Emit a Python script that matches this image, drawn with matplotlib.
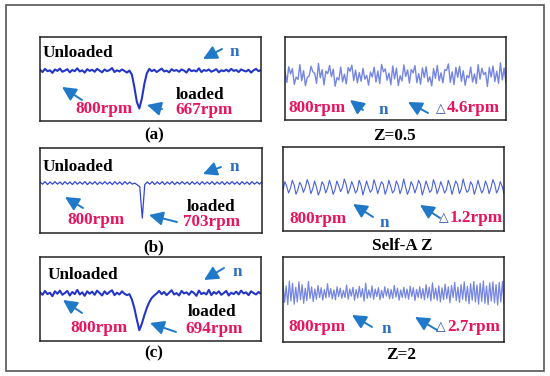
import matplotlib.pyplot as plt
from matplotlib.patches import Rectangle
import numpy as np

#=======================
# Speed traces (rpm)
#=======================

# left column: speed under a load step
speed_a = [803, 795, 806, 798, 801, 792, 804, 799, 807, 796,
           800, 805, 794, 802, 798, 808, 797, 801, 793, 805,
           799, 803, 796, 806, 800, 794, 804, 798, 802, 809,
           795, 801, 797, 804, 799, 793, 800, 786, 742, 690,
           667, 701, 752, 790, 806, 798, 803, 795, 801, 807,
           797, 800, 794, 805, 799, 802, 796, 804, 800, 793,
           806, 798, 801, 797, 808, 795, 802, 799, 804, 796,
           800, 805, 794, 801, 798, 803, 797, 806, 799, 802,
           795, 804, 800, 797, 803, 793, 801, 806, 798, 802]

speed_b = [803, 797, 804, 796, 803, 797, 804, 797, 803, 796,
           804, 797, 803, 796, 804, 797, 803, 797, 804, 796,
           803, 797, 804, 796, 803, 797, 804, 797, 803, 796,
           804, 797, 803, 796, 804, 797, 803, 797, 800, 795,
           790, 703, 796, 803, 797, 804, 796, 803, 797, 804,
           796, 803, 797, 804, 796, 803, 797, 804, 797, 803,
           796, 804, 797, 803, 796, 804, 797, 803, 797, 804,
           796, 803, 797, 804, 796, 803, 797, 804, 797, 803,
           796, 804, 797, 803, 796, 804, 797, 803, 797, 804]

speed_c = [802, 795, 806, 797, 801, 791, 805, 798, 807, 795,
           800, 806, 793, 803, 797, 809, 796, 802, 792, 805,
           798, 804, 795, 807, 800, 793, 805, 797, 803, 808,
           794, 801, 796, 805, 798, 794, 797, 782, 757, 724,
           694, 712, 736, 757, 774, 786, 793, 799, 806, 797,
           803, 794, 801, 808, 796, 800, 793, 806, 799, 802,
           795, 805, 800, 792, 807, 797, 801, 796, 809, 794,
           803, 798, 805, 795, 800, 806, 793, 801, 797, 804,
           796, 807, 799, 802, 794, 805, 800, 796, 803, 798]

# right column: speed ripple around 800 rpm (rpm deviation)
ripple_z05 = [1.2, -2.8, 3.1, 0.4, 2.4, -3.6, -0.8, -1.7, 3.9, -2.2,
              1.6, -4.1, -1.0, -0.4, 3.3, 1.2, 0.6, -3.2, 4.4, -1.1,
              2.0, -3.8, 1.4, 0.5, 3.6, -0.7, 2.2, -4.3, -1.0, -1.9,
              3.0, -2.6, 0.3, -3.4, 2.8, 1.4, 3.7, -2.1, 1.8, -3.0,
              0.9, -2.4, 2.5, -1.6, -0.2, -3.9, 1.1, -0.8, 2.9, -2.7,
              1.5, -3.3, 4.0, 1.2, 2.3, -2.0, 0.7, -3.7, 3.4, -1.5,
              2.6, -4.0, -0.3, -2.3, 3.8, -0.6, 1.9, -3.1, 2.1, 0.8,
              3.5, -2.9, 0.5, -3.5, 2.7, -1.0, 3.1, -2.6, -0.7, -4.2,
              2.4, -1.3, 3.6, -2.2, 0.8, -3.0, 2.0, 1.7, 4.2, -2.8,
              1.2, -3.6, 2.9, -0.9, 3.3, -2.4, 1.6, -3.9, -0.2, -1.1,
              3.0, -2.7, 0.4, -3.3, 3.9, -1.6, 2.5, 0.1, 1.0, -4.4,
              2.8, -0.8, 3.4, -2.5, 1.4, -3.2, 4.6, -1.9, 2.6, -3.0]

ripple_self = [-0.5, 0.8, 0.1, -0.9, -0.2, 1.0, 0.3, -1.1, -0.4, 0.7,
               0.2, -0.8, -0.1, 1.1, 0.4, -1.0, -0.3, 0.9, 0.0, -1.2,
               -0.5, 0.8, 0.3, -0.9, -0.2, 1.0, 0.1, -1.1, -0.4, 0.9,
               0.2, -0.7, -0.1, 1.2, 0.4, -1.0, -0.3, 0.8, 0.1, -0.9,
               -0.5, 1.0, 0.3, -1.2, -0.2, 0.9, 0.0, -0.8, -0.4, 1.1,
               0.2, -1.0, -0.1, 0.8, 0.4, -1.1, -0.3, 1.0, 0.1, -0.9,
               -0.5, 0.9, 0.3, -1.0, -0.2, 1.2, 0.0, -1.1, -0.4, 0.8,
               0.2, -0.9, -0.1, 1.0, 0.4, -1.2, -0.3, 0.9, 0.1, -0.8,
               -0.5, 1.1, 0.3, -1.0, -0.2, 0.8, 0.0, -0.9, -0.4, 1.0,
               0.2, -1.1, -0.1, 0.9, 0.4, -1.0, -0.3, 1.2, 0.1, -0.8,
               -0.5, 0.8, 0.3, -1.1, -0.2, 1.0, 0.0, -0.9, -0.4, 0.9,
               0.2, -1.0, -0.1, 1.1, 0.4, -0.9, -0.3, 0.8, 0.1, -1.0]

ripple_z2 = [2.4, -2.1, 1.6, -2.6, 2.7, -1.8, 2.2, -2.5, 1.3, -2.0,
             2.5, -1.5, 1.9, -2.3, 1.1, -1.7, 2.6, -1.2, 1.4, -1.9,
             0.9, -1.4, 1.7, -1.0, 1.2, -1.6, 0.8, -1.1, 2.1, -0.9,
             1.0, -1.3, 0.7, -1.5, 1.4, -0.8, 1.1, -1.2, 0.6, -1.0,
             1.8, -1.4, 0.9, -0.7, 1.3, -1.6, 0.8, -1.1, 1.5, -0.9,
             1.0, -1.8, 2.2, -1.2, 0.7, -1.0, 1.6, -1.4, 0.9, -0.8,
             1.2, -1.5, 0.6, -1.1, 1.4, -0.7, 1.0, -1.3, 0.8, -1.2,
             1.7, -0.9, 1.1, -1.6, 0.7, -1.0, 1.3, -1.1, 0.9, -1.4,
             1.5, -0.8, 1.2, -1.7, 0.8, -1.0, 1.4, -1.2, 1.0, -1.5,
             1.9, -1.1, 1.3, -1.8, 2.3, -1.3, 1.1, -1.6, 1.6, -2.0,
             1.2, -1.5, 2.0, -1.3, 1.4, -2.2, 1.7, -1.0, 2.4, -1.7,
             1.3, -2.1, 1.9, -1.4, 2.5, -1.8, 1.5, -2.4, 2.1, -1.6,
             2.6, -2.0, 1.8, -2.5, 2.2, -1.9, 2.7, -2.3, 1.6, -2.6,
             2.3, -1.8, 2.5, -2.2, 1.9, -2.7, 2.4, -2.0, 2.6, -2.4]

loaded_labels = ['667rpm', '703rpm', '694rpm']
ripple_labels = ['4.6rpm', '1.2rpm', '2.7rpm']
left_titles = ['(a)', '(b)', '(c)']
right_titles = ['Z=0.5', 'Self-A Z', 'Z=2']

#=======================
# Figure
#=======================

W, H = 550, 376
fig = plt.figure(figsize=(W / 100, H / 100), dpi=100)
plt.rcParams['font.family'] = ['Liberation Serif', 'DejaVu Serif']

PINK = '#e8145f'
ARROW = '#1f78c8'
NBLUE = '#2a6fc0'


def px_axes(x0, y0, x1, y1):
    ax = fig.add_axes([x0 / W, 1 - y1 / H, (x1 - x0) / W, (y1 - y0) / H])
    ax.set_xticks([])
    ax.set_yticks([])
    for s in ax.spines.values():
        s.set_linewidth(1.1)
        s.set_color('#222222')
    return ax


def draw(ax, y, ylim, color, lw, alpha=1.0):
    x = np.arange(len(y))
    ax.plot(x, y, color=color, lw=lw, alpha=alpha)
    ax.set_xlim(0, len(y) - 1)
    ax.set_ylim(*ylim)


axA = px_axes(40, 37, 261, 121)
draw(axA, speed_a, (623, 918), '#2436c8', 1.5)
axB = px_axes(40, 148, 262, 233)
draw(axB, speed_b, (662, 897), '#3346d6', 0.9)
axC = px_axes(40, 257, 261, 341)
draw(axC, speed_c, (663, 903), '#2436c8', 1.5)

axA2 = px_axes(285, 37, 506, 120)
draw(axA2, ripple_z05, (-17.1, 14.4), '#3a52d6', 1.0, 0.7)
axB2 = px_axes(283, 147, 504, 231)
draw(axB2, ripple_self, (-6.6, 6.0), '#4a62dc', 0.8)
axC2 = px_axes(283, 257, 504, 342)
draw(axC2, ripple_z2, (-11.0, 8.1), '#3a52d6', 0.9, 0.7)

# overlay for frame, labels and arrows (pixel coordinates)
ov = fig.add_axes([0, 0, 1, 1], zorder=10)
ov.set_xlim(0, W)
ov.set_ylim(H, 0)
ov.axis('off')
ov.patch.set_alpha(0)
ov.add_patch(Rectangle((6, 5), 538, 366, fill=False, ec='#555555', lw=1.2))

FS = 12.3
bold = dict(fontsize=FS, fontweight='bold', va='center', ha='left')


def arrow(tail, head):
    ov.annotate('', xy=head, xytext=tail,
                arrowprops=dict(arrowstyle='-|>,head_length=0.7,head_width=0.35',
                                color=ARROW, lw=1.4, mutation_scale=12,
                                shrinkA=0, shrinkB=0))


# left column text
left_rows = [
    dict(unl=(43, 53), n=(230, 52), na=((222, 49), (203, 59)),
         a800=((82, 100), (62, 87)), t800=(75, 109), lo=(176, 95),
         tl=(175, 110), la=((162, 109), (147, 105)), title=(154, 135)),
    dict(unl=(43, 167), n=(230, 167), na=((221, 167), (203, 174)),
         a800=((83, 208), (65, 197)), t800=(67, 220), lo=(187, 207),
         tl=(183, 222), la=((177, 222), (149, 215)), title=(154, 247)),
    dict(unl=(48, 275), n=(233, 272), na=((224, 268), (204, 280)),
         a800=((82, 313), (63, 300)), t800=(70, 328), lo=(188, 312),
         tl=(185, 329), la=((176, 332), (150, 323)), title=(154, 353)),
]
for r, lab, title in zip(left_rows, loaded_labels, left_titles):
    ov.text(*r['unl'], 'Unloaded', color='black', **bold)
    ov.text(*r['n'], 'n', color=NBLUE, **bold)
    arrow(*r['na'])
    arrow(*r['a800'])
    ov.text(*r['t800'], '800rpm', color=PINK, **bold)
    ov.text(*r['lo'], 'loaded', color='black', **bold)
    ov.text(*r['tl'], lab, color=PINK, **bold)
    arrow(*r['la'])
    ov.text(*r['title'], title, fontsize=FS, fontweight='bold', ha='center', va='center')

right_rows = [
    dict(t800=(288, 108), a1=((363, 110), (350, 100)), n=(379, 110),
         a2=((428, 113), (408, 102)), tri=(436, 109), tr=(447, 108), title=(395, 136)),
    dict(t800=(289, 219), a1=((373, 217), (353, 204)), n=(380, 223),
         a2=((440, 218), (420, 205)), tri=(439, 218), tr=(450, 218), title=(402, 246)),
    dict(t800=(288, 327), a1=((372, 327), (352, 315)), n=(382, 329),
         a2=((437, 330), (415, 317)), tri=(436, 327), tr=(447, 327), title=(401, 355)),
]
for r, lab, title in zip(right_rows, ripple_labels, right_titles):
    ov.text(*r['t800'], '800rpm', color=PINK, **bold)
    arrow(*r['a1'])
    ov.text(*r['n'], 'n', color=NBLUE, **bold)
    arrow(*r['a2'])
    ov.text(*r['tri'], '\u25b3', color='#2a4aa0', fontsize=9, va='center', ha='left',
            family=['DejaVu Sans'])
    ov.text(*r['tr'], lab, color=PINK, **bold)
    ov.text(*r['title'], title, fontsize=FS, fontweight='bold', ha='center', va='center')

fig.savefig('out.png', dpi=100)
